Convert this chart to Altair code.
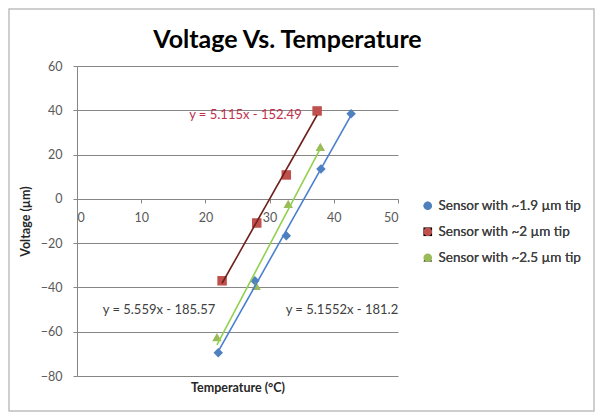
import altair as alt
import pandas as pd

series_names = ["Sensor with ~1.9 µm tip", "Sensor with ~2 µm tip", "Sensor with ~2.5 µm tip"]

blue_x = [22.0, 27.7, 32.6, 38.0, 42.7]
blue_y = [-69.5, -37.0, -16.7, 13.5, 38.4]
red_x = [22.6, 28.0, 32.6, 37.4]
red_y = [-37.0, -10.9, 10.8, 39.7]
green_x = [21.8, 27.9, 32.9, 37.9]
green_y = [-62.4, -39.3, -2.3, 23.5]

marker_colors = ["#4F81BD", "#C0504D", "#9BBB59"]
line_colors = ["#4A7FD0", "#6E1F1C", "#92D050"]
shapes = ["diamond", "square", "triangle-up"]

eq_texts = ["y = 5.1552x - 181.2", "y = 5.115x - 152.49", "y = 5.559x - 185.57"]
eq_x = [32.5, 35.0, 4.0]
eq_y = [-50.0, 38.0, -50.0]
eq_align = ["left", "right", "left"]
eq_colors = ["#404040", "#C0304D", "#404040"]

chart_title = "Voltage Vs. Temperature"

x_ticks = [0, 10, 20, 30, 40, 50]
y_ticks = [-80, -60, -40, -20, 0, 20, 40, 60]

rows = []
for name, xs, ys in zip(series_names, [blue_x, red_x, green_x], [blue_y, red_y, green_y]):
    for a, b in zip(xs, ys):
        rows.append({"series": name, "x": a, "y": b})
df = pd.DataFrame(rows)

eq_df = pd.DataFrame({"text": eq_texts, "x": eq_x, "y": eq_y, "align": eq_align, "c": eq_colors})

FONT = "Lato"
W, H = 321, 310

xscale = alt.Scale(domain=[0, 50], nice=False)
yscale = alt.Scale(domain=[-80, 60], nice=False)

xaxis = alt.Axis(values=x_ticks, title="Temperature (°C)", offset=-177, grid=False,
                 domainColor="#868686", tickColor="#868686", tickSize=4,
                 labelColor="#595959", labelFontSize=12.5, labelFont=FONT, labelPadding=8,
                 titleFont=FONT, titleFontSize=12.5, titleFontWeight="bold", titleColor="#262626",
                 titleY=188, titleBaseline="middle")
yaxis = alt.Axis(values=y_ticks, title="Voltage (µm)", grid=True, gridColor="#868686",
                 domainColor="#868686", tickColor="#868686", tickSize=4,
                 labelColor="#595959", labelFontSize=12.5, labelFont=FONT, labelPadding=11,
                 titleFont=FONT, titleFontSize=12.5, titleFontWeight="bold", titleColor="#262626",
                 titlePadding=8)

legend = alt.Legend(title=None, orient="none", legendX=344, legendY=133,
                    labelFont=FONT, labelFontSize=13.5, labelColor="#404040",
                    rowPadding=11, symbolSize=75, symbolStrokeWidth=0, labelOffset=4)

base = alt.Chart(df)

points = base.mark_point(filled=True, size=90, opacity=1).encode(
    x=alt.X("x:Q", scale=xscale, axis=xaxis),
    y=alt.Y("y:Q", scale=yscale, axis=yaxis),
    color=alt.Color("series:N", scale=alt.Scale(domain=series_names, range=marker_colors), legend=legend),
    shape=alt.Shape("series:N", scale=alt.Scale(domain=series_names, range=shapes), legend=legend),
)

lines = base.transform_regression("x", "y", groupby=["series"]).mark_line(strokeWidth=1.6).encode(
    x=alt.X("x:Q", scale=xscale),
    y=alt.Y("y:Q", scale=yscale),
    color=alt.Color("series:N", scale=alt.Scale(domain=series_names, range=line_colors), legend=None),
    detail="series:N",
)

def eq_layer(al):
    return alt.Chart(eq_df).transform_filter(alt.datum.align == al).mark_text(
        font=FONT, fontSize=13, baseline="middle", align=al).encode(
        x=alt.X("x:Q", scale=xscale),
        y=alt.Y("y:Q", scale=yscale),
        text="text:N",
        color=alt.Color("c:N", scale=None),
    )

title_layer = alt.Chart(pd.DataFrame({"t": [chart_title]})).mark_text(
    font=FONT, fontSize=25, fontWeight="bold", color="#000000", align="center", baseline="alphabetic"
).encode(text="t:N", x=alt.value(W / 2 + 50), y=alt.value(-18))

border = alt.Chart(pd.DataFrame({"a": [0]})).mark_rect(fill=None, stroke="#BFBFBF", strokeWidth=1.5).encode(
    x=alt.value(-68), x2=alt.value(W + 196), y=alt.value(-57), y2=alt.value(H + 35)
)

chart = alt.layer(border, title_layer, points, lines, eq_layer("left"), eq_layer("right")).resolve_scale(
    color="independent").properties(
    width=W, height=H,
    autosize=alt.AutoSizeParams(type="none"),
    padding={"left": 69, "top": 58, "right": 197, "bottom": 36},
).configure_view(strokeWidth=0)

chart.save("out.html", embed_options={"renderer": "svg", "actions": False})
